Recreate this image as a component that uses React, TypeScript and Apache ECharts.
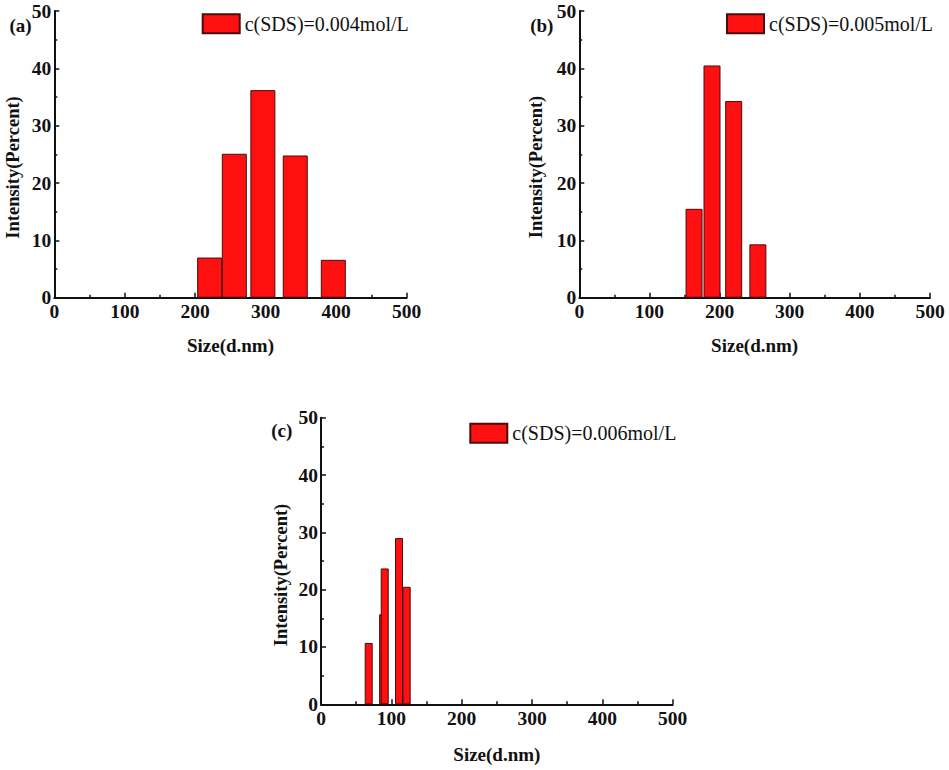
import React, { useEffect, useRef } from "react";
import * as echarts from "echarts";

// ---- data ----
const seriesNames = ["c(SDS)=0.004mol/L", "c(SDS)=0.005mol/L", "c(SDS)=0.006mol/L"];
const panelLabels = ["(a)", "(b)", "(c)"];
const xTicks = [0, 100, 200, 300, 400, 500];
const yTicks = [0, 10, 20, 30, 40, 50];
const xTitle = "Size(d.nm)";
const yTitle = "Intensity(Percent)";

// [size (d.nm), intensity (%)]
const sizesA = [220.5, 255.5, 296, 342, 396];
const valuesA = [7.0, 25.1, 36.2, 24.8, 6.6];
const sizesB = [163.6, 189.2, 220.1, 254.6];
const valuesB = [15.5, 40.5, 34.3, 9.3];
const sizesC = [67.8, 88.3, 90.6, 110.9, 121.8];
const valuesC = [10.7, 15.7, 23.7, 29.0, 20.5];

const FONT = "'Liberation Serif', 'Times New Roman', serif";

export default function App() {
  const ref = useRef<HTMLDivElement>(null);

  useEffect(() => {
    if (!ref.current) return;
    const chart = echarts.init(ref.current, undefined, { renderer: "svg" });

    const grids = [
      { left: 54.3, top: 11, width: 352.3, height: 286.7 },
      { left: 579.3, top: 11, width: 350.7, height: 286.7 },
      { left: 321, top: 417.7, width: 351.7, height: 286.6 },
    ];
    const barWidths = [25, 17, 8];
    const nameGaps = [38, 38, 41];
    const datasets = [
      sizesA.map((s, i) => [s, valuesA[i]]),
      sizesB.map((s, i) => [s, valuesB[i]]),
      sizesC.map((s, i) => [s, valuesC[i]]),
    ];
    const legendPos = [
      { left: 201.7, top: 13.3 },
      { left: 726, top: 13.3 },
      { left: 469.3, top: 422.7 },
    ];
    const yTitlePos = [
      { x: 12.5, y: 167.5 },
      { x: 536, y: 167 },
      { x: 280.5, y: 575 },
    ];
    const labelPos = [
      { x: 9.5, y: 25 },
      { x: 530.2, y: 25.5 },
      { x: 271.2, y: 430 },
    ];

    const axisLine = { show: true, onZero: false, lineStyle: { color: "#111", width: 2 } };
    const axisLabel = {
      color: "#111",
      fontFamily: FONT,
      fontWeight: "bold" as const,
      fontSize: 19.5,
    };

    const xAxis = grids.map((_, i) => ({
      type: "value" as const,
      gridIndex: i,
      min: xTicks[0],
      max: xTicks[xTicks.length - 1],
      interval: xTicks[1] - xTicks[0],
      name: xTitle,
      nameLocation: "middle" as const,
      nameGap: nameGaps[i],
      nameTextStyle: { color: "#111", fontFamily: FONT, fontWeight: "bold" as const, fontSize: 19 },
      axisLine,
      axisTick: { show: true, inside: true, length: 5, lineStyle: { color: "#111", width: 1.5 } },
      minorTick: { show: true, splitNumber: 2, length: 3, lineStyle: { color: "#111", width: 1.5 } },
      splitLine: { show: false },
      axisLabel: { ...axisLabel, margin: 4 },
    }));

    const yAxis = grids.map((_, i) => ({
      type: "value" as const,
      gridIndex: i,
      min: yTicks[0],
      max: yTicks[yTicks.length - 1],
      interval: yTicks[1] - yTicks[0],
      axisLine,
      axisTick: { show: true, inside: true, length: 5, lineStyle: { color: "#111", width: 1.5 } },
      minorTick: { show: true, splitNumber: 2, length: 3, lineStyle: { color: "#111", width: 1.5 } },
      splitLine: { show: false },
      axisLabel: { ...axisLabel, margin: 3 },
    }));

    const series = grids.map((_, i) => ({
      type: "bar" as const,
      name: seriesNames[i],
      xAxisIndex: i,
      yAxisIndex: i,
      barWidth: barWidths[i],
      data: datasets[i],
      itemStyle: { color: "#ff1010", borderColor: "#4a0c0c", borderWidth: 1 },
    }));

    const legend = grids.map((_, i) => ({
      data: [seriesNames[i]],
      left: legendPos[i].left,
      top: legendPos[i].top,
      padding: 0,
      icon: "rect",
      itemWidth: 37,
      itemHeight: 19,
      selectedMode: false,
      textStyle: { color: "#111", fontFamily: FONT, fontSize: 20 },
    }));

    const graphic = [
      ...yTitlePos.map((p) => ({
        type: "text" as const,
        x: p.x,
        y: p.y,
        rotation: Math.PI / 2,
        style: {
          text: yTitle,
          fill: "#111",
          font: `bold 18.5px ${FONT}`,
          textAlign: "center",
          textVerticalAlign: "middle",
        },
      })),
      ...labelPos.map((p, i) => ({
        type: "text" as const,
        x: p.x,
        y: p.y,
        style: {
          text: panelLabels[i],
          fill: "#111",
          font: `bold 19px ${FONT}`,
          textAlign: "left",
          textVerticalAlign: "middle",
        },
      })),
    ];

    chart.setOption({
      animation: false,
      backgroundColor: "#fff",
      grid: grids.map((g) => ({ ...g, containLabel: false })),
      xAxis,
      yAxis,
      series,
      legend,
      graphic,
    });

    return () => chart.dispose();
  }, []);

  return (
    <div
      ref={ref}
      style={{ position: "absolute", left: 0, top: 0, width: 949, height: 770 }}
    />
  );
}
